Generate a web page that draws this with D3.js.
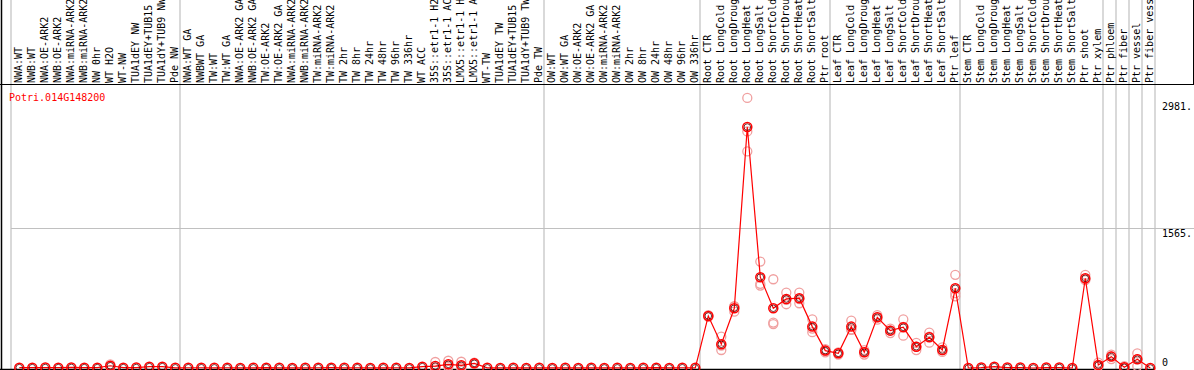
<!DOCTYPE html>
<html>
<head>
<meta charset="utf-8">
<script src="https://cdn.jsdelivr.net/npm/d3@7"></script>
<style>
  body { margin: 0; background: #fff; }
  svg { display: block; font-family: "DejaVu Sans Mono", monospace; font-size: 10px; }
</style>
</head>
<body>
<svg id="chart"></svg>
<script>
// expression profile, one gene

var geneName = 'Potri.014G148200';

var samples = [
    'NWA:WT','NWB:WT','NWA:OE-ARK2','NWB:OE-ARK2','NWA:miRNA-ARK2','NWB:miRNA-ARK2','NW 0hr','WT H2O','WT-NW',
    'TUA1dEY NW','TUA1dEY+TUB15 NW','TUA1dY+TUB9 NW','Pde NW',
    'NWA:WT GA','NWBWT GA','TW:WT','TW:WT GA','NWA:OE-ARK2 GA','NWB:OE-ARK2 GA','TW:OE-ARK2','TW:OE-ARK2 GA',
    'NWA:miRNA-ARK2','NWB:miRNA-ARK2','TW:miRNA-ARK2','TW:miRNA-ARK2','TW 2hr','TW 8hr','TW 24hr','TW 48hr',
    'TW 96hr','TW 336hr','WT ACC','35S::etr1-1 H2O','35S::etr1-1 ACC','LMX5::etr1-1 H2O','LMX5::etr1-1 ACC',
    'WT-TW','TUA1dEY TW','TUA1dEY+TUB15 TW','TUA1dY+TUB9 TW','Pde TW',
    'OW:WT','OW:WT GA','OW:OE-ARK2','OW:OE-ARK2 GA','OW:miRNA-ARK2','OW:miRNA-ARK2','OW 2hr','OW 8hr',
    'OW 24hr','OW 48hr','OW 96hr','OW 336hr',
    'Root CTR','Root LongCold','Root LongDrought','Root LongHeat','Root LongSalt','Root ShortCold',
    'Root ShortDrought','Root ShortHeat','Root ShortSalt','Ptr root',
    'Leaf CTR','Leaf LongCold','Leaf LongDrought','Leaf LongHeat','Leaf LongSalt','Leaf ShortCold',
    'Leaf ShortDrought','Leaf ShortHeat','Leaf ShortSalt','Ptr leaf',
    'Stem CTR','Stem LongCold','Stem LongDrought','Stem LongHeat','Stem LongSalt','Stem ShortCold',
    'Stem ShortDrought','Stem ShortHeat','Stem ShortSalt','Ptr shoot','Ptr xylem',
    'Ptr phloem','Ptr fiber','Ptr vessel','Ptr fiber vessel'
];

// mean expression per sample
var means = [
    4,4,5,4,6,4,4,25,4,5,15,15,2,
    3,3,2,3,1,2,4,2,1,2,3,4,2,3,1,2,3,1,15,22,41,30,52,2,1,2,1,2,
    1,2,1,3,1,2,1,2,4,1,3,2,
    581,265,667,2690,1014,667,771,779,462,194,
    164,462,175,566,417,455,238,343,201,890,
    0,5,15,5,5,0,5,5,0,1002,34,
    127,8,97,0
];

// replicate values, only where they show apart from the mean
var replicates = {
    7: [40,20,15],
    32: [67,2,0],
    33: [81,30,12],
    34: [70,20,0],
    35: [60,50,45],
    53: [590,570,581],
    54: [350,201,250],
    55: [685,629,690],
    56: [3015,2641,2418],
    57: [1188,920,940],
    58: [991,507,490],
    59: [842,712,760],
    60: [842,723,770],
    61: [544,440,400],
    62: [210,175,190],
    63: [175,150,165],
    64: [529,425,430],
    65: [200,150,175],
    66: [590,540,566],
    67: [440,390,420],
    68: [544,361,460],
    69: [280,200,238],
    70: [395,283,350],
    71: [230,180,200],
    72: [1040,835,800],
    82: [1040,990,980],
    83: [60,20,25],
    84: [100,150,130],
    85: [20,0,5],
    86: [164,22,100]
};

// first sample of each block (gray separators)
var groupStarts = ['NWA:WT','NWA:WT GA','OW:WT','Root CTR','Leaf CTR','Stem CTR','Ptr phloem','Ptr fiber','Ptr vessel','Ptr fiber vessel'];

var yTicks = [0, 1565, 2981];
var yTickLabels = ['0', '1565.', '2981.'];

var width = 1194, height = 370;
var headerH = 84;

var svg = d3.select('svg#chart')
    .attr('width', width)
    .attr('height', height);

var x = d3.scaleBand()
    .domain(d3.range(samples.length))
    .range([11, 1155]);

var y = d3.scaleLinear()
    .domain([0, 2981])
    .range([368, 101]);

var px = function(i){ return x(i) + 8.3; };

// separators
var seps = groupStarts.map(function(s){ return x(samples.indexOf(s)); });
seps.push(x.range()[1]);

svg.append('g')
    .selectAll('line')
    .data(seps)
    .enter().append('line')
    .attr('x1', d => d).attr('x2', d => d)
    .attr('y1', 0).attr('y2', 369)
    .attr('stroke', '#c0c0c0')
    .attr('stroke-width', 1.2);

// horizontal grid line at middle tick
svg.append('line')
    .attr('x1', 11).attr('x2', width)
    .attr('y1', Math.round(y(yTicks[1])) + 0.5).attr('y2', Math.round(y(yTicks[1])) + 0.5)
    .attr('stroke', '#c0c0c0')
    .attr('stroke-width', 1.2);

// frame
svg.append('line').attr('x1', 0).attr('x2', width).attr('y1', headerH + 0.5).attr('y2', headerH + 0.5).attr('stroke', '#000');
svg.append('line').attr('x1', 1.5).attr('x2', 1.5).attr('y1', 0).attr('y2', height).attr('stroke', '#000').attr('stroke-width', 1.5);
svg.append('line').attr('x1', width - 0.5).attr('x2', width - 0.5).attr('y1', 0).attr('y2', headerH).attr('stroke', '#000');
svg.append('line').attr('x1', 0).attr('x2', x.range()[1]).attr('y1', 369.5).attr('y2', 369.5).attr('stroke', '#000').attr('stroke-width', 1.5);

// sample labels, rotated (long ones run off the top, as in the original)
svg.append('g')
    .selectAll('text')
    .data(samples)
    .enter().append('text')
    .attr('transform', (d, i) => 'translate(' + (x(i) + 10.5) + ',' + (headerH - 1) + ') rotate(-90)')
    .attr('fill', '#000')
    .text(d => d);

// gene name
svg.append('text')
    .attr('x', 9).attr('y', 101)
    .attr('fill', '#ff0000')
    .text(geneName);

// y tick labels on the right
svg.append('g')
    .selectAll('text')
    .data(yTicks)
    .enter().append('text')
    .attr('x', 1162)
    .attr('y', (d, i) => i === 0 ? y(d) - 2 : y(d) + 9)
    .attr('fill', '#000')
    .text((d, i) => yTickLabels[i]);

// replicate circles
var reps = [];
Object.keys(replicates).forEach(function(k){
    replicates[k].forEach(function(v){ reps.push({i: +k, v: v}); });
});

svg.append('g')
    .selectAll('circle')
    .data(reps)
    .enter().append('circle')
    .attr('cx', d => px(d.i))
    .attr('cy', d => y(d.v))
    .attr('r', 4.5)
    .attr('fill', 'none')
    .attr('stroke', '#f0a0a0')
    .attr('stroke-width', 1.3);

// mean line
var line = d3.line()
    .x((d, i) => px(i))
    .y(d => y(d));

svg.append('path')
    .attr('d', line(means))
    .attr('fill', 'none')
    .attr('stroke', '#ff0000')
    .attr('stroke-width', 1.2);

// mean markers: red ring with a thin dark inner ring
var meanG = svg.append('g');
meanG.selectAll('circle.mk')
    .data(means)
    .enter().append('circle')
    .attr('class', 'mk')
    .attr('cx', (d, i) => px(i))
    .attr('cy', d => y(d))
    .attr('r', 3.3)
    .attr('fill', 'none')
    .attr('stroke', '#400000')
    .attr('stroke-width', 0.8);
meanG.selectAll('circle.rd')
    .data(means)
    .enter().append('circle')
    .attr('class', 'rd')
    .attr('cx', (d, i) => px(i))
    .attr('cy', d => y(d))
    .attr('r', 4.5)
    .attr('fill', 'none')
    .attr('stroke', '#ff0000')
    .attr('stroke-width', 1.5);
</script>
</body>
</html>
